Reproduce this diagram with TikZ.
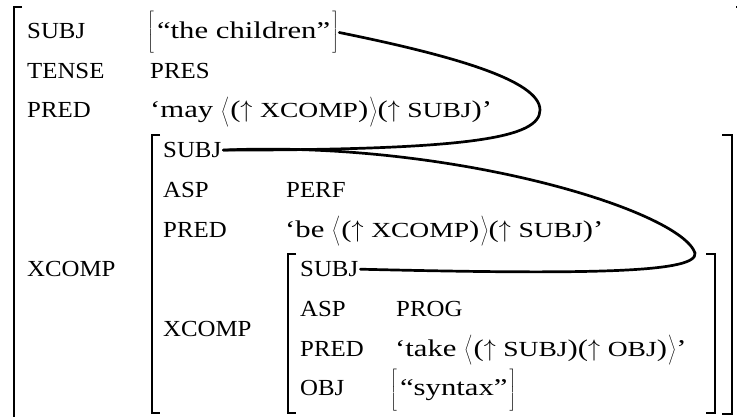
\RequirePackage{fix-cm}
\documentclass[tikz,border=0pt]{standalone}
\usepackage{fontspec}
\setmainfont{Liberation Serif}
\newfontfamily\attrfont[FakeStretch=1.08]{Liberation Serif}
\newfontfamily\valfont[FakeStretch=1.28]{Liberation Serif}
\usetikzlibrary{positioning}
\tikzset{
  attr/.style={anchor=base west, inner sep=0pt, font=\attrfont\fontsize{23}{27}\selectfont},
  val/.style={anchor=base west, inner sep=0pt, font=\valfont\fontsize{24}{28}\selectfont},
  fbrack/.style={line width=1.4pt},
  link/.style={line width=2.7pt, line cap=round},
}
% grammatical functions inside a PRED value
\newcommand{\gf}[1]{{\fontsize{21.5}{25}\selectfont #1}}
\newcommand{\up}{$\uparrow$}
% tall delimiters
\newcommand{\lang}{$\left\langle\vrule height 26pt depth 13pt width 0pt\right.$}
\newcommand{\rang}{$\left.\vrule height 26pt depth 13pt width 0pt\right\rangle$}
\newcommand{\lsq}{$\left[\vrule height 26pt depth 10pt width 0pt\right.$\kern2pt}
\newcommand{\rsq}{\kern1pt$\left.\vrule height 26pt depth 10pt width 0pt\right]$}

\begin{document}
\begin{tikzpicture}[x=1pt, y=-1pt]
  \useasboundingbox (0,0) rectangle (737,416);
  \clip (0,0) rectangle (737,416);
  % outer f-structure
  \node[attr] (o-subj)  at (27,38.5)  {SUBJ};
  \node[attr] (o-tense) at (27,78.2)  {TENSE};
  \node[attr] (o-pred)  at (27,117.9) {PRED};
  \node[attr] (o-xcomp) at (27,276.5) {XCOMP};
  \node[val] (v-subj)  at (147,38.5)  {\lsq“the children”\rsq};
  \node[attr] (v-tense) at (150,78.2) {PRES};
  \node[val] (v-pred)  at (150,117.9)
    {‘may \lang(\up\ \gf{XCOMP})\rang(\up\ \gf{SUBJ})’};
  % middle f-structure
  \node[attr] (m-subj)  at (163,157.6) {SUBJ};
  \node[attr] (m-asp)   at (163,197.3) {ASP};
  \node[attr] (m-pred)  at (163,237.0) {PRED};
  \node[attr] (m-xcomp) at (163,336.0) {XCOMP};
  \node[attr] (w-asp)  at (286,197.3) {PERF};
  \node[val] (w-pred) at (285,237.0)
    {‘be \lang(\up\ \gf{XCOMP})\rang(\up\ \gf{SUBJ})’};
  % inner f-structure
  \node[attr] (i-subj) at (300,276.7) {SUBJ};
  \node[attr] (i-asp)  at (300,316.4) {ASP};
  \node[attr] (i-pred) at (300,356.1) {PRED};
  \node[attr] (i-obj)  at (300,395.8) {OBJ};
  \node[attr] (u-asp)  at (396,316.4) {PROG};
  \node[val] (u-pred) at (395,356.1)
    {‘take \lang(\up\ \gf{SUBJ})(\up\ \gf{OBJ})\rang’};
  \node[val] (u-obj)  at (390,395.8) {\lsq“syntax”\rsq};
  % brackets
  \draw[fbrack] (22,7) -- (14,7) -- (14,430);
  \draw[fbrack] (736,7) -- (745,7) -- (745,430);
  \draw[fbrack] (160,135) -- (152,135) -- (152,413) -- (160,413);
  \draw[fbrack] (722,135) -- (732,135) -- (732,414) -- (722,414);
  \draw[fbrack] (296,254) -- (288,254) -- (288,413) -- (296,413);
  \draw[fbrack] (706,254) -- (715,254) -- (715,413) -- (706,413);
  % structure sharing of SUBJ
  \draw[link] (v-subj.east) .. controls (450,55) and (540,80) .. (540,110)
    .. controls (540,138) and (470,150) .. ([xshift=2pt]m-subj.east);
  \draw[link] ([xshift=2pt]m-subj.east) .. controls (450,140) and (680,210) .. (695,253)
    .. controls (698,272) and (600,275) .. ([xshift=2pt]i-subj.east);
\end{tikzpicture}
\end{document}
